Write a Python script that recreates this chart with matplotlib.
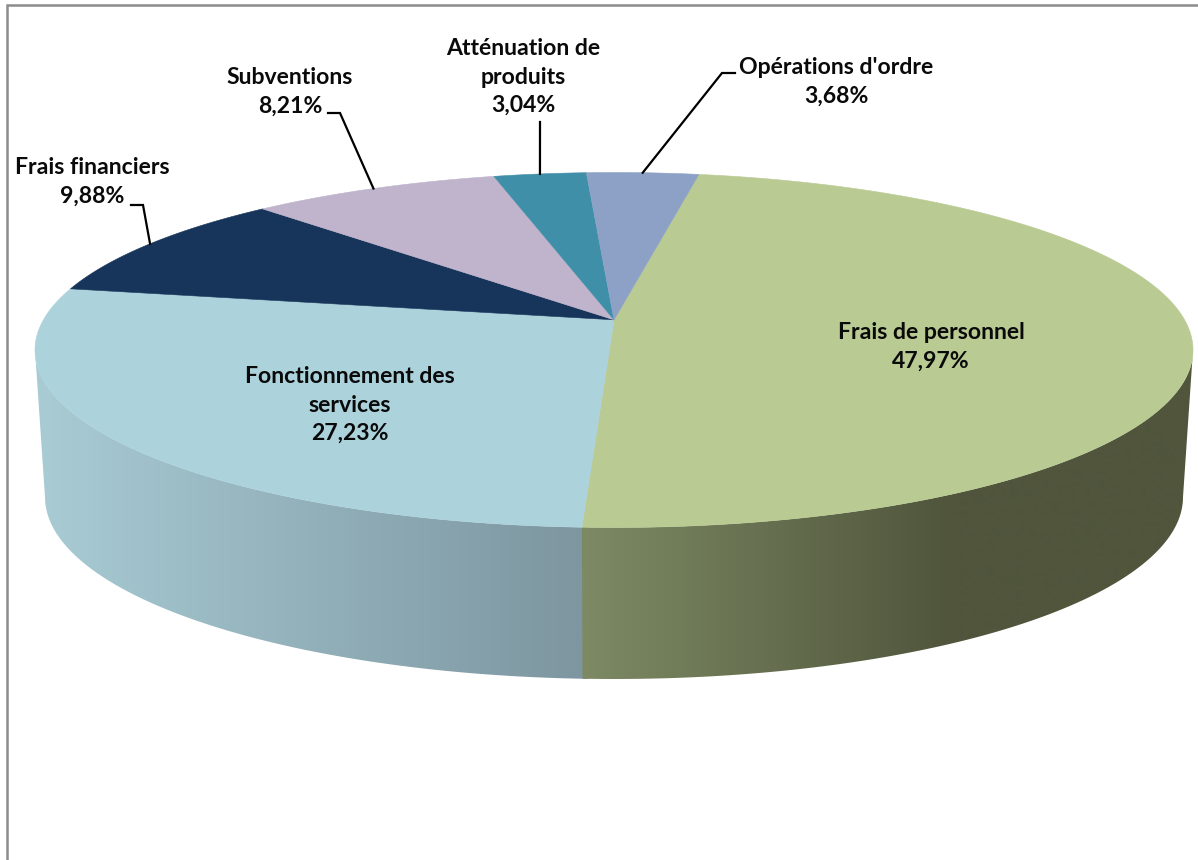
import numpy as np
import matplotlib
matplotlib.use("Agg")
import matplotlib.pyplot as plt
from matplotlib.patches import Polygon

categories = ["Frais de personnel", "Fonctionnement des\nservices", "Frais financiers",
              "Subventions", "Atténuation de\nproduits", "Opérations d'ordre"]
values = [47.97, 27.23, 9.88, 8.21, 3.04, 3.68]
value_labels = ["47,97%", "27,23%", "9,88%", "8,21%", "3,04%", "3,68%"]
colors = ["#B9CA93", "#ACD2DC", "#17345A", "#BFB4CC", "#3F8FA8", "#8DA1C6"]

W, H = 1198, 860
fig = plt.figure(figsize=(W / 100, H / 100), dpi=100, facecolor="white")
ax = fig.add_axes([0, 0, 1, 1])
ax.axis("off")

CX, CY, RX, RY = 614, 350, 579, 177.5
BCX, BCY, BRX, BRY = 614, 497, 569, 182
A = 0.17
START = 10.0
WALL = [((125, 150, 160), (168, 203, 212), 582, 40), ((125, 138, 100), (80, 85, 60), 582, 950)]


def unit(theta):
    t = np.radians(theta)
    u, v = np.sin(t), np.cos(t)
    d = 1 + A * v
    return u * np.sqrt(1 - A ** 2) / d, (v + A) / d


def top(theta):
    u, v = unit(theta)
    return CX + RX * u, CY - RY * v


def bottom(theta):
    u, v = unit(theta)
    return BCX + BRX * u, BCY - BRY * v


apex = CX, CY - RY * A
fracs = np.array(values) / sum(values) * 360
edges = START + np.concatenate([[0], np.cumsum(fracs)])
right = np.degrees(np.arccos(-A))
left = 360 - right

# side wall: horizontal gradient clipped to each slice's wall
# (the left wall runs slightly under the right one so no seam shows)
xgrid = np.arange(0, W + 1)
for k, (a, b) in enumerate([(edges[1] - 0.5, left), (right, edges[1])]):
    c0, c1, x0, x1 = WALL[k]
    f = np.clip((xgrid - x0) / (x1 - x0), 0, 1)[None, :, None]
    img = (np.array(c0)[None, None, :] + (np.array(c1) - np.array(c0))[None, None, :] * f) / 255
    th = np.linspace(a, b, 400)
    poly = Polygon([top(t) for t in th] + [bottom(t) for t in th[::-1]], closed=True,
                   facecolor="none", edgecolor="none", transform=ax.transData)
    ax.add_patch(poly)
    im = ax.imshow(img, extent=(0, W, H, 0), aspect="auto", zorder=1 + 0.1 * k, interpolation="bilinear")
    im.set_clip_path(poly)

ax.set_xlim(0, W)
ax.set_ylim(H, 0)

# top face
for i, c in enumerate(colors):
    th = np.linspace(edges[i], edges[i + 1], 200)
    pts = [apex] + [top(t) for t in th]
    ax.add_patch(Polygon(pts, closed=True, facecolor=c, edgecolor=c, lw=0.4, zorder=2))

# frame
ax.plot([7, 7, W], [H, 4.5, 4.5], color="#8C8C8C", lw=1.8, zorder=0, solid_joinstyle="miter")

# labels
label_pos = [(931, 347), (350, 405), (92, 182), (290, 92), (523, 77), (836, 82)]
for name, val, (x, y) in zip(categories, value_labels, label_pos):
    ax.text(x, y, name + "\n" + val, ha="center", va="center", family="Lato",
            fontweight="bold", fontsize=16.6, color="#0A0A0A", linespacing=1.45, zorder=5)

# leader lines: from label elbow to the middle of the slice's rim
elbows = {2: [(131, 205), (143, 205)], 3: [(328, 113), (340, 113)],
          4: [(540, 122)], 5: [(735, 73), (722, 73)]}
for i, pts in elbows.items():
    end = top((edges[i] + edges[i + 1]) / 2)
    xs, ys = zip(*(pts + [end]))
    ax.plot(xs, ys, color="black", lw=1.6, zorder=4, solid_joinstyle="miter")

fig.savefig("out.png", dpi=100, facecolor="white")
